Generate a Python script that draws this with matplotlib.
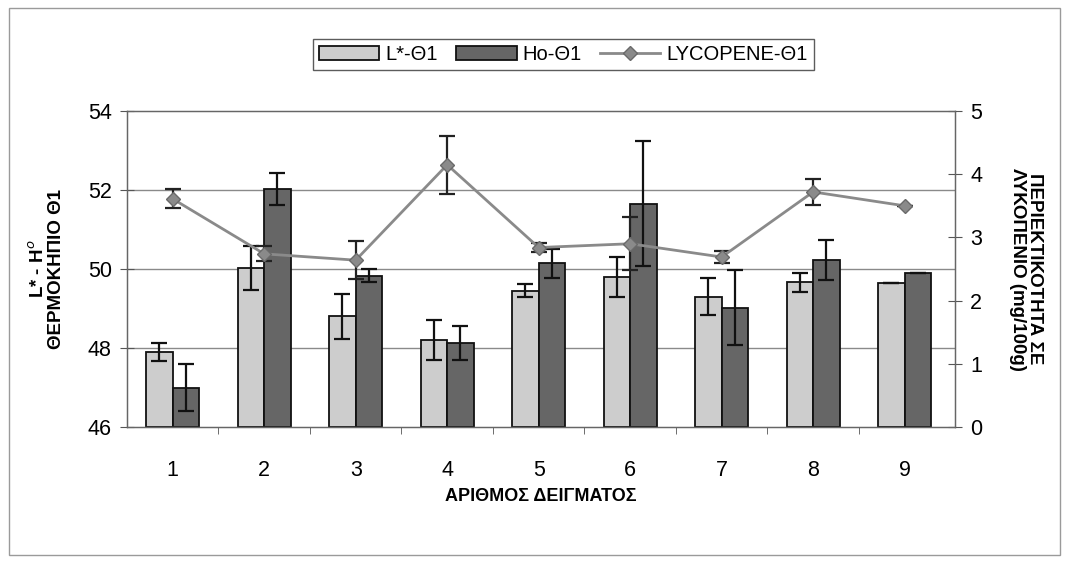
import numpy as np
import matplotlib
matplotlib.use("Agg")
import matplotlib.pyplot as plt
from matplotlib.patches import Rectangle
from matplotlib.lines import Line2D

plt.rcParams['font.family'] = ['Liberation Sans', 'DejaVu Sans']

# sample numbers
samples = [1, 2, 3, 4, 5, 6, 7, 8, 9]

# L* and Ho values (left axis) with error bars
l_star = [47.9, 50.03, 48.81, 48.2, 49.45, 49.8, 49.3, 49.66, 49.64]
l_star_err = [0.22, 0.55, 0.57, 0.5, 0.17, 0.5, 0.47, 0.25, 0.0]
ho = [47.0, 52.03, 49.83, 48.12, 50.14, 51.65, 49.02, 50.23, 49.91]
ho_err = [0.59, 0.4, 0.17, 0.43, 0.36, 1.58, 0.95, 0.5, 0.0]

# lycopene content (right axis, mg/100g)
lycopene = [3.61, 2.74, 2.64, 4.15, 2.84, 2.9, 2.69, 3.72, 3.5]
lycopene_err = [0.15, 0.12, 0.3, 0.46, 0.07, 0.42, 0.1, 0.2, 0.0]

x = np.array(samples)
w = 0.29
base = 46

fig = plt.figure(figsize=(10.67, 5.65), dpi=100)
fig.patches.append(Rectangle((0.008, 0.018), 0.985, 0.968, transform=fig.transFigure,
                             fill=False, edgecolor='#9a9a9a', linewidth=1.0))

ax = fig.add_axes([0.119, 0.2442, 0.776, 0.5593])
ax.set_xlim(0.5, 9.55)
ax.set_ylim(46, 54)
ax.set_yticks([46, 48, 50, 52, 54])
for gy in [48, 50, 52]:
    ax.axhline(gy, color='#8a8a8a', linewidth=1.0, zorder=0)

err_kw = dict(ecolor='#111111', elinewidth=1.6, capsize=5.5, capthick=1.6)
ax.bar(x - w / 2, np.array(l_star) - base, width=w, bottom=base, color='#cdcdcd',
       edgecolor='#111111', linewidth=1.3, yerr=l_star_err, error_kw=err_kw,
       label='L*-Θ1', zorder=2)
ax.bar(x + w / 2, np.array(ho) - base, width=w, bottom=base, color='#666666',
       edgecolor='#111111', linewidth=1.3, yerr=ho_err, error_kw=err_kw,
       label='Ho-Θ1', zorder=2)

ax.set_xticks(x)
ax.set_xticklabels([str(s) for s in samples], fontsize=15.5)
ax.set_xticks(np.arange(1.5, 9.5, 1), minor=True)
ax.tick_params(axis='x', which='major', length=0, pad=24)
ax.tick_params(axis='x', which='minor', length=5, direction='out', color='#555555')
ax.tick_params(axis='y', direction='inout', length=10, labelsize=15.5, pad=6, color='#555555')
for s in ax.spines.values():
    s.set_color('#666666')
    s.set_linewidth(1.0)

ax.set_ylabel('L* - H$^{o}$\nΘΕΡΜΟΚΗΠΙΟ Θ1', fontsize=13.5, fontweight='bold',
              labelpad=16, linespacing=1.05)
ax.set_xlabel('ΑΡΙΘΜΟΣ ΔΕΙΓΜΑΤΟΣ', fontsize=13, fontweight='bold', labelpad=5)

ax2 = ax.twinx()
ax2.set_ylim(0, 5)
ax2.set_yticks([0, 1, 2, 3, 4, 5])
ax2.errorbar(x, lycopene, yerr=lycopene_err, color='#8a8a8a', linewidth=2.0,
             marker='D', markersize=7, markerfacecolor='#8a8a8a', markeredgecolor='#6a6a6a',
             ecolor='#222222', elinewidth=1.6, capsize=5.5, capthick=1.6, zorder=3)
ax2.tick_params(axis='y', direction='inout', length=10, labelsize=15.5, pad=6, color='#555555')
for s in ax2.spines.values():
    s.set_color('#666666')
ax2.set_ylabel('ΠΕΡΙΕΚΤΙΚΟΤΗΤΑ ΣΕ\nΛΥΚΟΠΕΝΙΟ (mg/100g)', fontsize=13.5, fontweight='bold',
               rotation=-90, labelpad=44, linespacing=1.05)

h1, l1 = ax.get_legend_handles_labels()
lyc_handle = Line2D([], [], color='#8a8a8a', linewidth=2.0, marker='D', markersize=7,
                    markerfacecolor='#8a8a8a', markeredgecolor='#6a6a6a')
leg = fig.legend(h1 + [lyc_handle], l1 + ['LYCOPENE-Θ1'], loc='center',
                 bbox_to_anchor=(0.528, 0.903), ncol=3,
                 fontsize=14.5, frameon=True, fancybox=False, edgecolor='#333333',
                 handlelength=3.0, handletextpad=0.3, columnspacing=0.9,
                 borderpad=0.3)
leg.get_frame().set_linewidth(1.0)

fig.savefig('out.png', dpi=100)
